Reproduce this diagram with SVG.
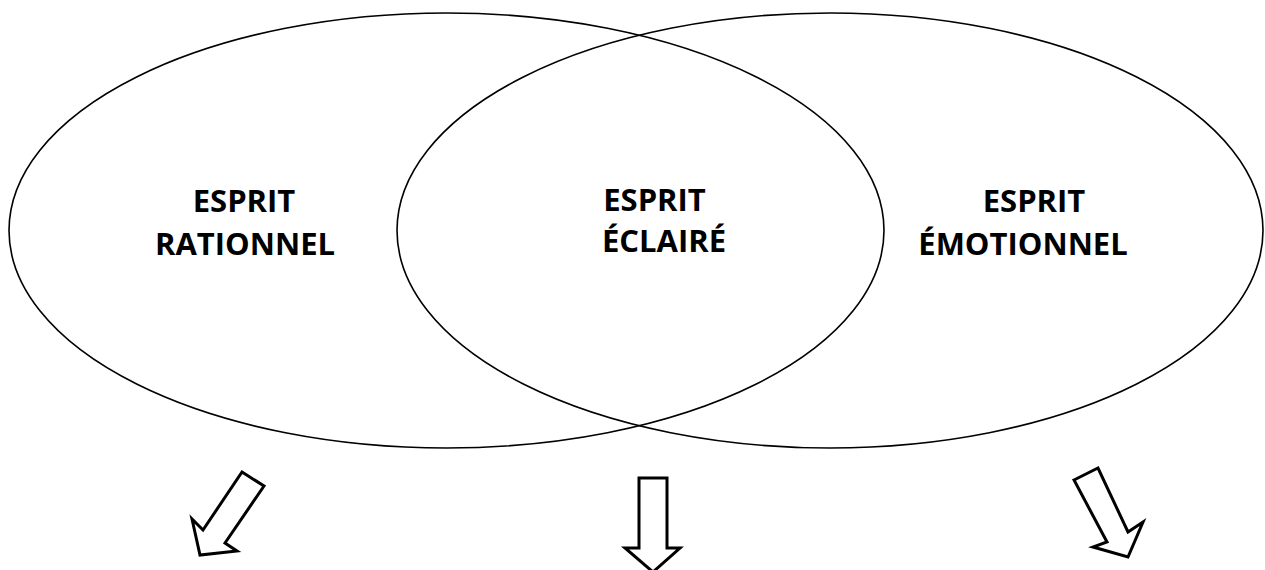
<svg xmlns="http://www.w3.org/2000/svg" width="1265" height="570" viewBox="0 0 1265 570">
<style>
.ell{fill:none;stroke:#000;stroke-width:1.6}
.lbl{font-family:"Open Sans","Liberation Sans",sans-serif;font-weight:700;font-size:31px;fill:#000;text-anchor:middle}
.arr{fill:#fff;stroke:#000;stroke-width:3;stroke-linejoin:miter}
</style>
<rect width="1265" height="570" fill="#fff"/>
<g id="rational">
<ellipse class="ell" cx="446.5" cy="230.5" rx="437.5" ry="217.5"/>
<text class="lbl" x="244" y="212">ESPRIT</text>
<text class="lbl" x="245" y="255">RATIONNEL</text>
</g>
<g id="emotional">
<ellipse class="ell" cx="830" cy="230.5" rx="433" ry="217.5"/>
<text class="lbl" x="1034" y="212">ESPRIT</text>
<text class="lbl" x="1023" y="255">ÉMOTIONNEL</text>
</g>
<g id="enlightened">
<text class="lbl" x="654.5" y="211">ESPRIT</text>
<text class="lbl" x="664" y="252">ÉCLAIRÉ</text>
</g>
<g id="connectors">
<polygon class="arr" points="242,472 264,486 225,543 237,551 200,555 192,519 203,530"/>
<polygon class="arr" points="639,478 667,478 667,548 680,548 653,572 625,548 639,548"/>
<polygon class="arr" points="1074,480 1098,468 1128,532 1143,522 1128,557 1093,547 1107,542"/>
</g>
</svg>
